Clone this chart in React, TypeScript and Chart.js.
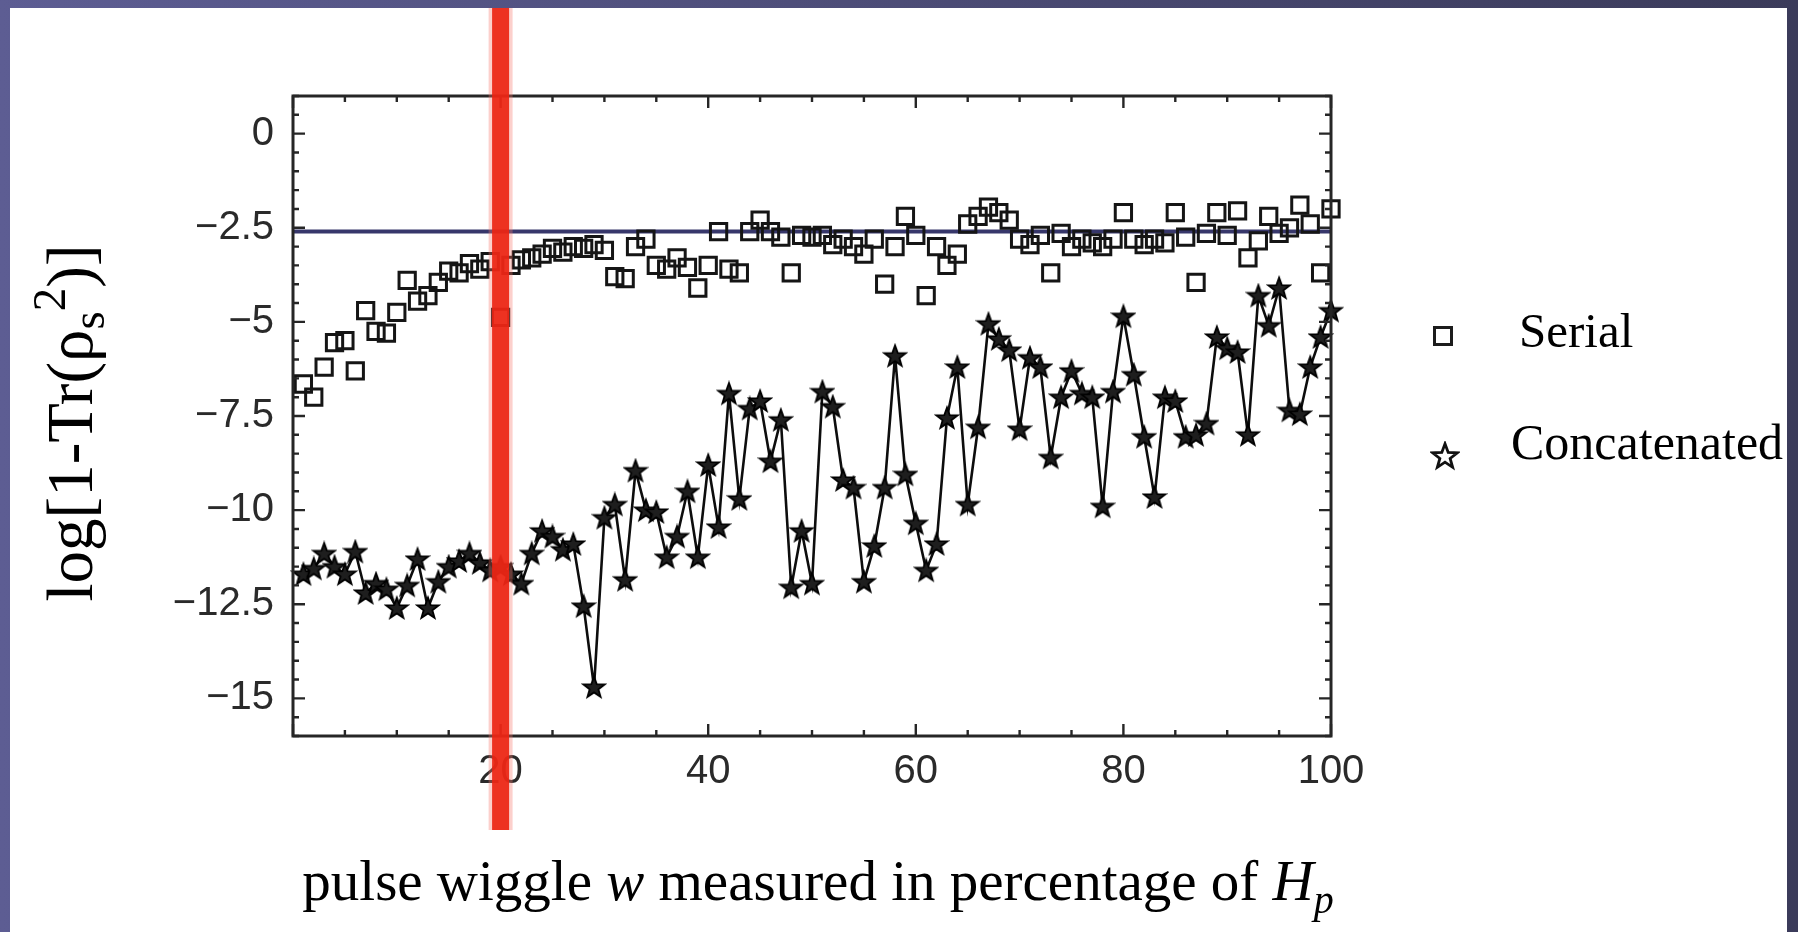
import React, { useEffect, useRef } from 'react';
import { Chart, registerables } from 'chart.js';

Chart.register(...registerables);

// ---------- data ----------
const PULSE_WIGGLE = Array.from({ length: 100 }, (_, i) => i + 1); // category axis: 1..100 %

const SERIAL = [
  -6.65, -7.0, -6.2, -5.55, -5.5, -6.3, -4.7, -5.25, -5.3, -4.75,
  -3.9, -4.45, -4.3, -3.95, -3.65, -3.7, -3.45, -3.6, -3.4, -4.88,
  -3.5, -3.35, -3.3, -3.2, -3.05, -3.15, -3.0, -3.05, -2.95, -3.1,
  -3.8, -3.85, -3.0, -2.8, -3.5, -3.6, -3.3, -3.55, -4.1, -3.5,
  -2.6, -3.6, -3.7, -2.6, -2.3, -2.6, -2.75, -3.7, -2.7, -2.75,
  -2.7, -2.95, -2.8, -3.0, -3.2, -2.8, -4.0, -3.0, -2.2, -2.7,
  -4.3, -3.0, -3.5, -3.2, -2.4, -2.2, -1.95, -2.1, -2.3, -2.8,
  -2.95, -2.7, -3.7, -2.65, -3.0, -2.8, -2.9, -3.0, -2.8, -2.1,
  -2.8, -2.95, -2.8, -2.9, -2.1, -2.75, -3.95, -2.65, -2.1, -2.7,
  -2.05, -3.3, -2.85, -2.2, -2.65, -2.5, -1.9, -2.4, -3.7, -2.0,
];

const CONCATENATED = [
  -11.7, -11.55, -11.15, -11.5, -11.7, -11.1, -12.2, -11.95, -12.1, -12.6,
  -12.0, -11.3, -12.6, -11.9, -11.5, -11.35, -11.15, -11.4, -11.6, -11.5,
  -11.7, -11.95, -11.15, -10.55, -10.7, -11.05, -10.9, -12.55, -14.7, -10.2,
  -9.85, -11.85, -8.95, -10.0, -10.05, -11.25, -10.7, -9.5, -11.25, -8.8,
  -10.45, -6.9, -9.7, -7.3, -7.1, -8.7, -7.6, -12.05, -10.55, -11.95,
  -6.85, -7.25, -9.2, -9.4, -11.9, -10.95, -9.4, -5.9, -9.05, -10.35,
  -11.6, -10.9, -7.55, -6.2, -9.85, -7.8, -5.05, -5.45, -5.75, -7.85,
  -5.95, -6.2, -8.6, -7.0, -6.3, -6.9, -7.0, -9.9, -6.85, -4.85,
  -6.4, -8.05, -9.65, -7.0, -7.1, -8.05, -8.0, -7.7, -5.4, -5.7,
  -5.8, -8.0, -4.3, -5.1, -4.1, -7.35, -7.45, -6.2, -5.4, -4.7,
];

const THRESHOLD = -2.6;      // horizontal reference line
const MARKER_X = 20;         // red vertical marker
const X_RANGE = [0, 100];
const Y_RANGE = [-16, 1];
const X_TICKS = [20, 40, 60, 80, 100];
const X_TICK_LABELS = ['20', '40', '60', '80', '100'];
const Y_TICKS = [0, -2.5, -5, -7.5, -10, -12.5, -15];
const Y_TICK_LABELS = ['0', '\u22122.5', '\u22125', '\u22127.5', '\u221210', '\u221212.5', '\u221215'];
const X_MINOR_STEP = 5;
const X_MAJOR_STEP = 20;
const Y_MINOR_STEP = 0.5;
const Y_MAJOR_STEP = 2.5;

const SERIES_LABELS = ['Serial', 'Concatenated'];

// ---------- helpers ----------
const SERIF = '"Liberation Serif", "Times New Roman", serif';
const SANS = '"Liberation Sans", Arial, sans-serif';

function makeStar(size: number, outer: number, inner: number, fill: string, stroke: string, lw: number) {
  const c = document.createElement('canvas');
  c.width = size;
  c.height = size;
  const g = c.getContext('2d')!;
  g.beginPath();
  for (let i = 0; i < 10; i++) {
    const r = i % 2 ? inner : outer;
    const a = -Math.PI / 2 + (i * Math.PI) / 5;
    const px = size / 2 + r * Math.cos(a);
    const py = size / 2 + 0.8 + r * Math.sin(a);
    if (i === 0) g.moveTo(px, py);
    else g.lineTo(px, py);
  }
  g.closePath();
  g.fillStyle = fill;
  g.fill();
  g.lineWidth = lw;
  g.lineJoin = 'miter';
  g.strokeStyle = stroke;
  g.stroke();
  return c;
}

type Part = { t: string; italic?: boolean; scale?: number; dy?: number };

function drawRich(ctx: CanvasRenderingContext2D, parts: Part[], cx: number, baseY: number, size: number) {
  const fontOf = (p: Part) => `${p.italic ? 'italic ' : ''}${Math.round(size * (p.scale || 1))}px ${SERIF}`;
  let total = 0;
  const widths = parts.map((p) => {
    ctx.font = fontOf(p);
    const w = ctx.measureText(p.t).width;
    total += w;
    return w;
  });
  let x = cx - total / 2;
  ctx.textAlign = 'left';
  ctx.textBaseline = 'alphabetic';
  parts.forEach((p, i) => {
    ctx.font = fontOf(p);
    ctx.fillText(p.t, x, baseY + (p.dy || 0) * size);
    x += widths[i];
  });
}

export default function App() {
  const ref = useRef<HTMLCanvasElement | null>(null);

  useEffect(() => {
    const canvas = ref.current;
    if (!canvas) return;

    const plotStar = makeStar(26, 11.2, 4.6, '#1e1e1e', '#000000', 1.8);
    const legendStar = makeStar(30, 13, 5.4, '#ffffff', '#111111', 2.8);

    const framePlugin = {
      id: 'figureDecor',
      beforeDraw(chart: any) {
        const { ctx, width, height } = chart;
        ctx.save();
        const g = ctx.createLinearGradient(0, 0, width, 0);
        g.addColorStop(0, '#5d5d93');
        g.addColorStop(1, '#3b3b5a');
        ctx.fillStyle = g;
        ctx.fillRect(0, 0, width, height);
        ctx.fillStyle = '#ffffff';
        ctx.fillRect(10, 8, 1777, height - 8);
        ctx.restore();
      },
      afterDatasetsDraw(chart: any) {
        const { ctx, chartArea: a } = chart;
        const xs = chart.scales.x;
        const ys = chart.scales.y;
        ctx.save();
        ctx.strokeStyle = '#262626';
        ctx.lineWidth = 3;
        ctx.strokeRect(a.left, a.top, a.right - a.left, a.bottom - a.top);
        ctx.lineWidth = 2.4;
        ctx.beginPath();
        for (let v = X_RANGE[0]; v <= X_RANGE[1] + 1e-9; v += X_MINOR_STEP) {
          const px = xs.getPixelForValue(v);
          const len = Math.abs(v % X_MAJOR_STEP) < 1e-9 ? 12 : 6;
          ctx.moveTo(px, a.bottom);
          ctx.lineTo(px, a.bottom - len);
          ctx.moveTo(px, a.top);
          ctx.lineTo(px, a.top + len);
        }
        for (let v = Y_RANGE[0]; v <= Y_RANGE[1] + 1e-9; v += Y_MINOR_STEP) {
          const py = ys.getPixelForValue(v);
          const len = Math.abs(v % Y_MAJOR_STEP) < 1e-9 ? 12 : 6;
          ctx.moveTo(a.left, py);
          ctx.lineTo(a.left + len, py);
          ctx.moveTo(a.right, py);
          ctx.lineTo(a.right - len, py);
        }
        ctx.stroke();
        ctx.restore();
      },
      afterDraw(chart: any) {
        const { ctx, chartArea: a } = chart;
        const xs = chart.scales.x;
        ctx.save();
        ctx.fillStyle = '#000000';

        // x axis title
        drawRich(
          ctx,
          [
            { t: 'pulse wiggle ' },
            { t: 'w', italic: true },
            { t: ' measured in percentage of ' },
            { t: 'H', italic: true },
            { t: 'p', italic: true, scale: 0.7, dy: 0.22 },
          ],
          (a.left + a.right) / 2 + 6,
          a.bottom + 164,
          57,
        );

        // y axis title (rotated)
        ctx.save();
        ctx.translate(92, (a.top + a.bottom) / 2 + 7);
        ctx.rotate(-Math.PI / 2);
        drawRich(
          ctx,
          [
            { t: 'log[1-Tr(\u03c1' },
            { t: 's', scale: 0.72, dy: 0.18 },
            { t: '2', scale: 0.72, dy: -0.42 },
            { t: ')]' },
          ],
          0,
          0,
          65,
        );
        ctx.restore();

        // legend
        ctx.save();
        ctx.beginPath();
        ctx.rect(10, 8, 1777, chart.height - 8);
        ctx.clip();
        const lx = a.right + 112;
        const rowY = [a.top + 240, a.top + 356];
        ctx.strokeStyle = '#1c1c1c';
        ctx.lineWidth = 3;
        ctx.strokeRect(lx - 8.5, rowY[0] - 8.5, 17, 17);
        ctx.drawImage(legendStar, lx + 2 - legendStar.width / 2, rowY[1] + 4 - legendStar.height / 2);
        ctx.fillStyle = '#000000';
        ctx.textAlign = 'left';
        ctx.textBaseline = 'middle';
        ctx.font = `49px ${SERIF}`;
        ctx.fillText(SERIES_LABELS[0], lx + 76, rowY[0] - 2);
        ctx.font = `50px ${SERIF}`;
        ctx.fillText(SERIES_LABELS[1], lx + 68, rowY[1] - 6);
        ctx.restore();

        // red vertical marker
        const rx = xs.getPixelForValue(MARKER_X);
        ctx.fillStyle = 'rgba(245,120,110,0.35)';
        ctx.fillRect(rx - 12, 8, 24, a.bottom + 94 - 8);
        ctx.fillStyle = 'rgba(236,36,18,0.92)';
        ctx.fillRect(rx - 8.5, 8, 17, a.bottom + 94 - 8);
        ctx.restore();
      },
    };

    const chart = new Chart(canvas, {
      type: 'scatter',
      data: {
        datasets: [
          {
            label: SERIES_LABELS[0],
            data: PULSE_WIGGLE.map((x, i) => ({ x, y: SERIAL[i] })),
            showLine: false,
            pointStyle: 'rect',
            pointRadius: 11.5,
            borderColor: '#151515',
            borderWidth: 3,
            backgroundColor: 'rgba(0,0,0,0)',
            clip: false,
          },
          {
            label: SERIES_LABELS[1],
            data: PULSE_WIGGLE.map((x, i) => ({ x, y: CONCATENATED[i] })),
            showLine: true,
            borderColor: '#0d0d0d',
            borderWidth: 2.6,
            pointStyle: plotStar as any,
            pointRadius: 10,
            backgroundColor: '#222222',
            clip: false,
          },
          {
            label: 'threshold',
            data: [
              { x: X_RANGE[0], y: THRESHOLD },
              { x: X_RANGE[1], y: THRESHOLD },
            ],
            showLine: true,
            borderColor: '#37376b',
            borderWidth: 4,
            pointRadius: 0,
          },
        ],
      } as any,
      options: {
        animation: false,
        responsive: true,
        maintainAspectRatio: false,
        devicePixelRatio: 1,
        layout: { padding: { left: 0, right: 467, top: 96, bottom: 0 } },
        plugins: {
          legend: { display: false },
          tooltip: { enabled: false },
        },
        scales: {
          x: {
            type: 'linear',
            min: X_RANGE[0],
            max: X_RANGE[1],
            grid: { display: false, drawTicks: false },
            border: { display: false },
            ticks: {
              padding: 12,
              color: '#2a2a2a',
              font: { family: SANS, size: 40 },
              maxRotation: 0,
              callback: (v: any) => {
                const i = X_TICKS.indexOf(Number(v));
                return i >= 0 ? X_TICK_LABELS[i] : '';
              },
            },
            afterBuildTicks: (s: any) => {
              s.ticks = X_TICKS.map((v) => ({ value: v }));
            },
            afterFit: (s: any) => {
              s.height = 196;
            },
          },
          y: {
            type: 'linear',
            min: Y_RANGE[0],
            max: Y_RANGE[1],
            grid: { display: false, drawTicks: false },
            border: { display: false },
            ticks: {
              padding: 19,
              color: '#2a2a2a',
              font: { family: SANS, size: 40 },
              callback: (v: any) => {
                const i = Y_TICKS.indexOf(Number(v));
                return i >= 0 ? Y_TICK_LABELS[i] : '';
              },
            },
            afterBuildTicks: (s: any) => {
              s.ticks = Y_TICKS.map((v) => ({ value: v }));
            },
            afterFit: (s: any) => {
              s.width = 293;
            },
          },
        },
      } as any,
      plugins: [framePlugin],
    });

    return () => chart.destroy();
  }, []);

  return (
    <div style={{ position: 'absolute', left: 0, top: 0, width: 1798, height: 932 }}>
      <canvas ref={ref} />
    </div>
  );
}
